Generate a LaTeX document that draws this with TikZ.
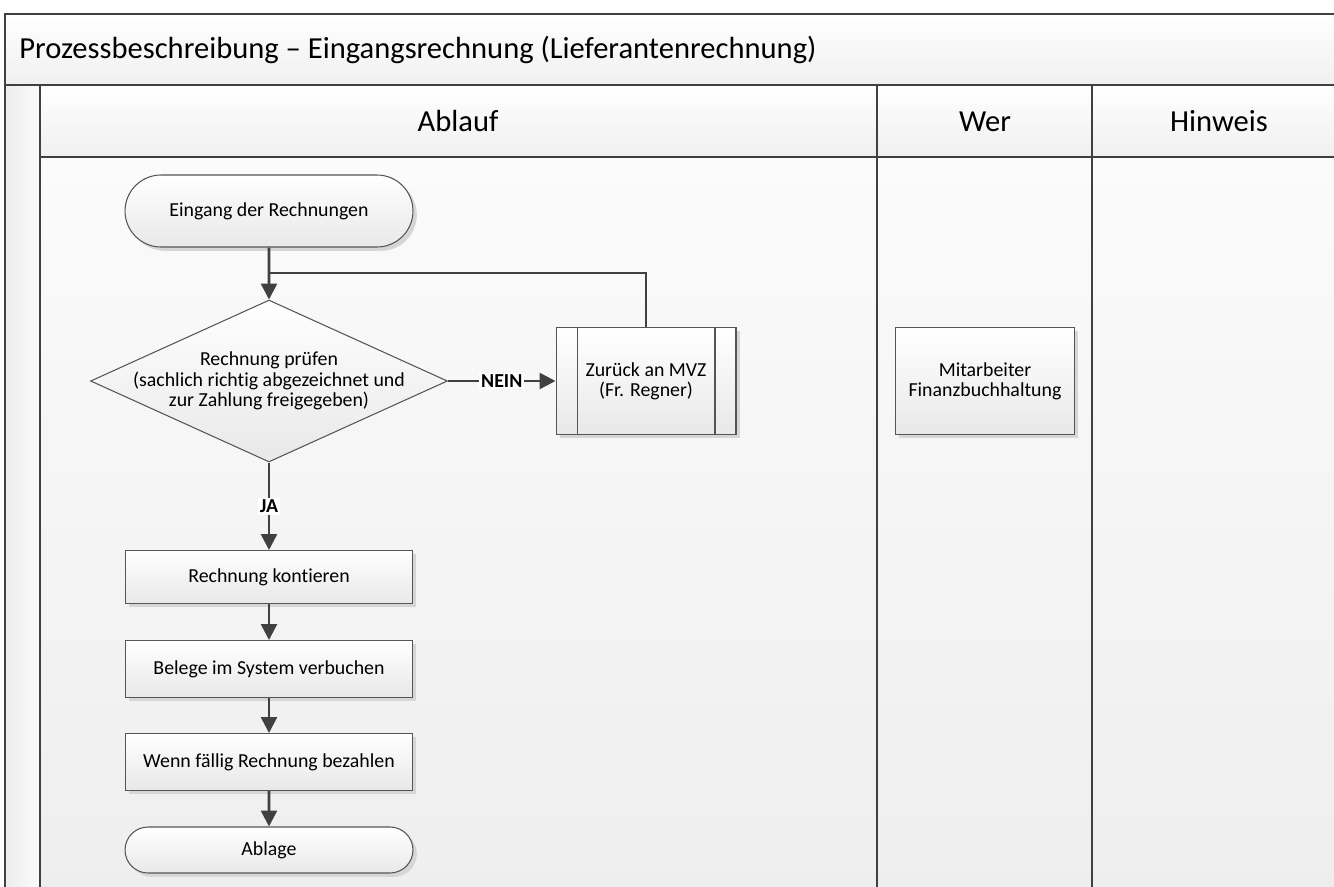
\documentclass[tikz,border=0pt]{standalone}
\usepackage{fontspec}
\setmainfont{Carlito}[Ligatures=NoCommon]
\usepackage{tikz}
\usetikzlibrary{arrows.meta}
\usetikzlibrary{shapes.geometric}
\usetikzlibrary{shapes.misc}
\usetikzlibrary{shadows}
\usetikzlibrary{positioning}
\definecolor{linegray}{HTML}{404040}
\definecolor{edgegray}{HTML}{555555}
\definecolor{lanetop}{HTML}{FBFBFB}
\definecolor{lanebot}{HTML}{EEEEEE}
\tikzset{>={Triangle[length=9pt,width=9pt]}}
\tikzstyle{lane} = [draw=linegray, line width=1.1pt, top color=lanetop, bottom color=lanebot]
\tikzstyle{head} = [anchor=base, inner sep=0pt, font=\fontsize{17.4}{20}\selectfont]
\tikzstyle{flowshape} = [draw=edgegray, line width=0.6pt, top color=white, bottom color=black!9, inner sep=0pt, align=center, font=\fontsize{11.3}{11.6}\selectfont]
\tikzstyle{shadowed} = [drop shadow={shadow xshift=2.2pt, shadow yshift=-2.2pt, fill=black!16, opacity=1}]
\tikzstyle{stepbox} = [flowshape, shadowed, rectangle, minimum width=5.74cm]
\tikzstyle{terminal} = [flowshape, shadowed, rounded rectangle, minimum width=5.76cm]
\tikzstyle{flow} = [->, draw=linegray, line width=1.5pt]
\tikzstyle{tag} = [fill=white, inner sep=1pt, font=\fontsize{11.3}{11.6}\selectfont\bfseries]

\begin{document}
\begin{tikzpicture}[x=0.02cm, y=-0.02cm]
\useasboundingbox (0,0) rectangle (1334,886);
\clip (0,0) rectangle (1334,886);
\fill [white] (0,0) rectangle (1334,886);
\path [lane, top color=white, bottom color=black!6] (5,14) rectangle (1350,85);
\path [lane, left color=black!7, right color=lanetop] (5,85) rectangle (40,900);
\path [lane, top color=white, bottom color=black!6] (40,85) rectangle (877,157);
\path [lane, top color=white, bottom color=black!6] (877,85) rectangle (1092,157);
\path [lane, top color=white, bottom color=black!6] (1092,85) rectangle (1350,157);
\path [lane] (40,157) rectangle (877,900);
\path [lane] (877,157) rectangle (1092,900);
\path [lane] (1092,157) rectangle (1350,900);
\node [head, anchor=base west] (title) at (19,58) {Prozessbeschreibung – Eingangsrechnung (Lieferantenrechnung)};
\node [head] (ablauf) at (458,131) {Ablauf};
\node [head] (wer) at (985,131) {Wer};
\node [head] (hinweis) at (1219,131) {Hinweis};

\node [terminal, minimum height=1.44cm] (start) at (269,211) {Eingang der Rechnungen};
\node [flowshape, diamond, minimum width=7.14cm, minimum height=3.24cm, label={[align=center, font=\fontsize{11.3}{11.6}\selectfont]center:Rechnung prüfen\\(sachlich richtig abgezeichnet und\\zur Zahlung freigegeben)}] (check) at (269,381) {};
\node [flowshape, shadowed, rectangle, minimum width=3.6cm, minimum height=2.14cm] (zurueck) at (646,381) {Zurück an MVZ\\(Fr. Regner)};
\draw [draw=edgegray, line width=0.6pt] ([xshift=0.44cm]zurueck.north west) -- ([xshift=0.44cm]zurueck.south west);
\draw [draw=edgegray, line width=0.6pt] ([xshift=-0.43cm]zurueck.north east) -- ([xshift=-0.43cm]zurueck.south east);
\node [stepbox, minimum height=1.06cm] (kontieren) at (269,577) {Rechnung kontieren};
\node [stepbox, minimum height=1.14cm] (buchen) at (269,669) {Belege im System verbuchen};
\node [stepbox, minimum height=1.14cm] (zahlen) at (269,762) {Wenn fällig Rechnung bezahlen};
\node [terminal, minimum height=0.92cm] (ablage) at (269,850) {Ablage};
\node [flowshape, shadowed, rectangle, minimum width=3.58cm, minimum height=2.14cm] (wer1) at (985,381) {Mitarbeiter\\Finanzbuchhaltung};

\coordinate (back) at (269,273);
\draw [flow] (start) to (check);
\draw [flow, -] (zurueck.north) |- (back);
\draw [flow] (check) to node [tag] {NEIN} (zurueck);
\draw [flow] (check) to node [tag] {JA} (kontieren);
\draw [flow] (kontieren) to (buchen);
\draw [flow] (buchen) to (zahlen);
\draw [flow] (zahlen) to (ablage);
\end{tikzpicture}
\end{document}
